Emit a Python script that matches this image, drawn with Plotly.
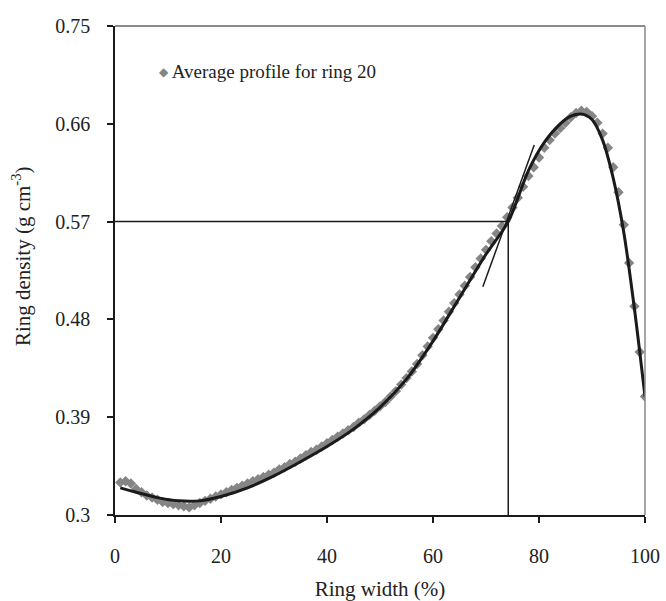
import plotly.graph_objects as go

# Measured average density profile across ring 20 (position as % of ring width)
ring_width_pct = list(range(1, 101))
ring_density = [
    0.330, 0.331, 0.329, 0.324, 0.321, 0.318, 0.316, 0.314, 0.312, 0.311,
    0.310, 0.309, 0.308, 0.307, 0.309, 0.311, 0.313, 0.315, 0.317, 0.319,
    0.321, 0.323, 0.325, 0.327, 0.329, 0.331, 0.333, 0.335, 0.337, 0.339,
    0.342, 0.344, 0.347, 0.349, 0.352, 0.355, 0.358, 0.360, 0.363, 0.366,
    0.369, 0.372, 0.375, 0.378, 0.381, 0.385, 0.388, 0.392, 0.396, 0.400,
    0.404, 0.409, 0.414, 0.420, 0.426, 0.432, 0.439, 0.447, 0.455, 0.463,
    0.471, 0.479, 0.487, 0.495, 0.503, 0.511, 0.519, 0.528, 0.536, 0.544,
    0.552, 0.559, 0.566, 0.574, 0.583, 0.592, 0.602, 0.612, 0.620, 0.629,
    0.638, 0.645, 0.651, 0.656, 0.661, 0.666, 0.670, 0.672, 0.671, 0.667,
    0.661, 0.651, 0.638, 0.620, 0.597, 0.567, 0.532, 0.492, 0.450, 0.409,
]

# Fitted trend through the profile
fit_x = [1, 4, 8, 12, 16, 20, 25, 30, 35, 40, 45, 50, 55, 60, 65, 70,
         74.2, 78, 81, 84, 86, 88, 90, 92, 94, 96, 98, 100]
fit_y = [0.325, 0.321, 0.316, 0.313, 0.313, 0.317, 0.325, 0.336, 0.349,
         0.363, 0.379, 0.399, 0.425, 0.460, 0.500, 0.540, 0.570, 0.617,
         0.643, 0.660, 0.667, 0.669, 0.664, 0.645, 0.610, 0.560, 0.490, 0.409]

# Tangent at the inflection point and the guides marking it
tangent_x = [69.4, 79.1]
tangent_y = [0.510, 0.6405]
guide_x = [0, 74.2, 74.2]
guide_y = [0.57, 0.57, 0.30]

# Axis ticks
x_ticks = [0, 20, 40, 60, 80, 100]
y_ticks = [0.30, 0.39, 0.48, 0.57, 0.66, 0.75]
y_tick_text = ["0.3", "0.39", "0.48", "0.57", "0.66", "0.75"]

series_name = "Average profile for ring 20"
marker_color = "#858585"
ink = "#222222"
serif = "Liberation Serif, Times New Roman, serif"

fig = go.Figure()

fig.add_trace(go.Scatter(
    x=ring_width_pct, y=ring_density, mode="markers", name=series_name,
    showlegend=False,
    marker=dict(symbol="diamond", size=8, color=marker_color),
))
fig.add_trace(go.Scatter(
    x=fit_x, y=fit_y, mode="lines", showlegend=False,
    line=dict(color="#1a1a1a", width=3, shape="spline", smoothing=0.8),
))
fig.add_trace(go.Scatter(
    x=tangent_x, y=tangent_y, mode="lines", showlegend=False,
    line=dict(color="#1a1a1a", width=1.5),
))
fig.add_trace(go.Scatter(
    x=guide_x, y=guide_y, mode="lines", showlegend=False,
    line=dict(color="#1a1a1a", width=1.5),
))

# Compact key: diamond symbol followed by the series name
fig.add_annotation(
    xref="paper", yref="paper", x=0.08, y=0.906,
    xanchor="left", yanchor="middle", showarrow=False,
    text=(f"<span style='color:{marker_color};font-size:12px;baseline-shift:2px'>"
          f"\u25C6</span> {series_name}"),
    font=dict(family=serif, size=19, color=ink),
)

# Vertical axis title, placed a little above the plot's mid-height
fig.add_annotation(
    xref="paper", yref="paper", x=-0.175, y=0.53,
    xanchor="center", yanchor="middle", showarrow=False, textangle=-90,
    text="Ring density (g cm<sup>-3</sup>)",
    font=dict(family=serif, size=21, color=ink),
)

# Gray frame on top and right
fig.add_shape(type="line", xref="paper", yref="paper", x0=0, x1=1, y0=1, y1=1,
              line=dict(color="#666666", width=1.5))
fig.add_shape(type="line", xref="paper", yref="paper", x0=1, x1=1, y0=0, y1=1,
              line=dict(color="#888888", width=1.5))

fig.update_layout(
    width=666, height=601,
    margin=dict(l=115, r=21, t=26, b=86),
    paper_bgcolor="white", plot_bgcolor="white",
    font=dict(family=serif, size=20, color=ink),
    showlegend=False,
    xaxis=dict(
        range=[0, 100], tickvals=x_ticks, showgrid=False, zeroline=False,
        showline=True, linecolor="#1a1a1a", linewidth=1.5,
        ticks="outside", ticklen=6, tickcolor="#1a1a1a", tickwidth=1.5,
        ticklabelstandoff=16, tickfont=dict(size=20), automargin=False,
        title=dict(text="Ring width (%)", font=dict(size=21), standoff=28),
    ),
    yaxis=dict(
        range=[0.30, 0.75], tickvals=y_ticks, ticktext=y_tick_text,
        showgrid=False, zeroline=False,
        showline=True, linecolor="#1a1a1a", linewidth=1.5,
        ticks="outside", ticklen=6, tickcolor="#1a1a1a", tickwidth=1.5,
        ticklabelstandoff=13, tickfont=dict(size=20), automargin=False,
    ),
)

fig.write_html("out.html")
